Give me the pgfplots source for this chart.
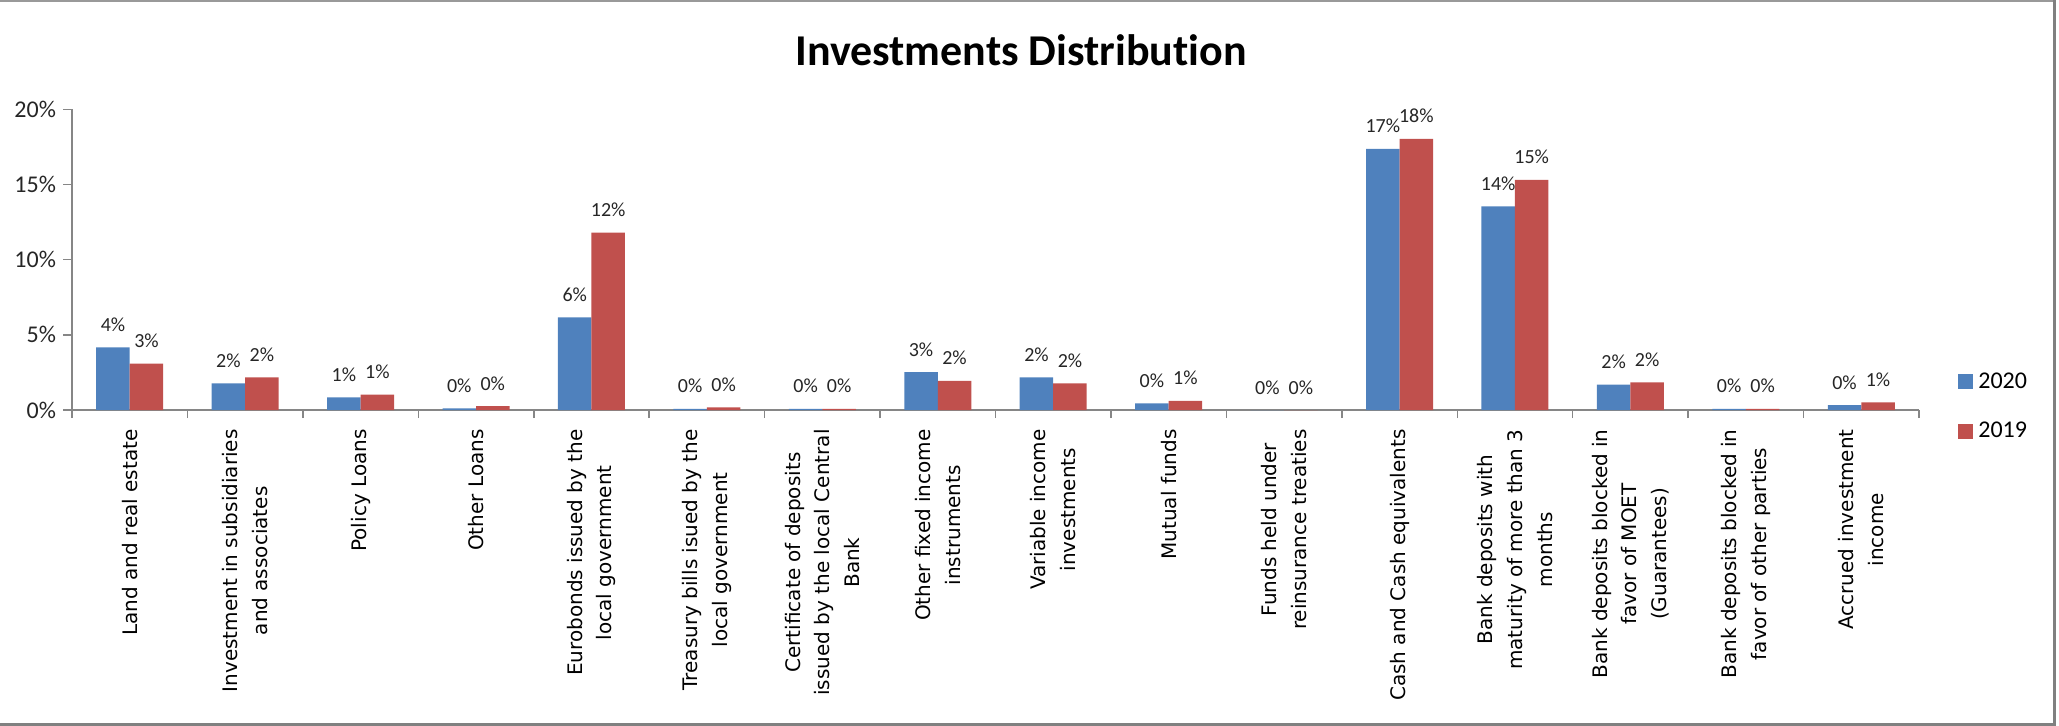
\documentclass[border=0pt]{standalone}
\usepackage{fontspec}
\setmainfont{Carlito}[Ligatures=NoCommon]
\newfontfamily\dejavu{DejaVu Sans}
\usepackage{pgfplots}
\usepackage{pgfplotstable}
\pgfplotsset{compat=1.18}
\definecolor{cblue}{HTML}{4F81BD}
\definecolor{cred}{HTML}{C0504D}
\definecolor{axgray}{HTML}{868686}

\pgfplotstableread{
x y lab
0 4.17 4
1 1.77 2
2 0.84 1
3 0.10 0
4 6.16 6
5 0.08 0
6 0.08 0
7 2.52 3
8 2.17 2
9 0.44 0
10 0.00 0
11 17.36 17
12 13.55 14
13 1.68 2
14 0.08 0
15 0.33 0
}\tabA

\pgfplotstableread{
x y lab
0 3.08 3
1 2.17 2
2 1.02 1
3 0.26 0
4 11.80 12
5 0.17 0
6 0.08 0
7 1.93 2
8 1.77 2
9 0.60 1
10 0.00 0
11 18.03 18
12 15.30 15
13 1.84 2
14 0.08 0
15 0.50 1
}\tabB

\begin{document}
\begin{tikzpicture}
\begin{axis}[
  at={(36pt,-205pt)}, anchor=south west,
  scale only axis, width=923.5pt, height=150.35pt,
  xmin=-0.5, xmax=15.5, ymin=0, ymax=20,
  axis x line*=bottom, axis y line*=left,
  axis line style={axgray, line width=0.75pt},
  ybar=0pt, bar width=16.75pt,
  tick align=outside,
  major tick length=4.5pt, minor tick length=4pt,
  xtick={0,...,15}, minor xtick={-0.5,0.5,...,15.5},
  major x tick style={draw=none},
  minor x tick style={axgray, line width=0.75pt},
  ytick style={axgray, line width=0.75pt},
  ytick={0,5,10,15,20}, yticklabels={0\%,5\%,10\%,15\%,20\%},
  yticklabel style={font=\fontsize{12}{14}\selectfont, text=black!85},
  xticklabels={
    {Land and real estate},
    {Investment in subsidiaries\\and associates},
    {Policy Loans},
    {Other Loans},
    {Eurobonds issued by the\\local government},
    {Treasury bills isued by the\\local government},
    {Certificate of deposits\\issued by the local Central\\Bank},
    {Other fixed income\\instruments},
    {Variable income\\investments},
    {Mutual funds},
    {Funds held under\\reinsurance treaties},
    {Cash and Cash equivalents},
    {Bank deposits with\\maturity of more than 3\\months},
    {Bank deposits blocked in\\favor of MOET\\(Guarantees)},
    {Bank deposits blocked in\\favor of other parties},
    {Accrued investment\\income}},
  xticklabel style={font=\dejavu\fontsize{10}{14.8}\selectfont, rotate=90, anchor=east, align=center, inner xsep=5pt, inner ysep=0pt},
  point meta=explicit symbolic,
  nodes near coords={\pgfplotspointmeta\%},
  every node near coord/.append style={font=\fontsize{10}{12}\selectfont, text=black!85, anchor=base, inner sep=0pt, yshift=8pt},
  legend style={draw=none, fill=none, at={(1.0211,0.011)}, anchor=west,
    font=\fontsize{12}{14}\selectfont, row sep=15.6pt, column sep=2.5pt, inner sep=0pt,
    nodes={inner sep=0pt}},
  legend cell align=left,
  legend image code/.code={\fill[#1] (0pt,-3.75pt) rectangle (7.5pt,3.75pt);},
]
\addplot[fill=cblue, draw=none] table[x=x, y=y, meta=lab]{\tabA};
\addplot[fill=cred, draw=none] table[x=x, y=y, meta=lab]{\tabB};
\legend{2020,2019}
\end{axis}
\node[anchor=base, font=\bfseries\fontsize{22}{26}\selectfont] at (510.5pt,-33pt) {Investments Distribution};
\draw[gray!80, line width=1pt] (0pt,-0.5pt) -- (1027pt,-0.5pt);
\draw[gray, line width=1.5pt] (1027pt,0pt) -- (1027pt,-362pt) -- (0pt,-362pt);
\pgfresetboundingbox
\path[use as bounding box] (0pt,0pt) rectangle (1029.5pt,-363pt);
\end{tikzpicture}
\end{document}
